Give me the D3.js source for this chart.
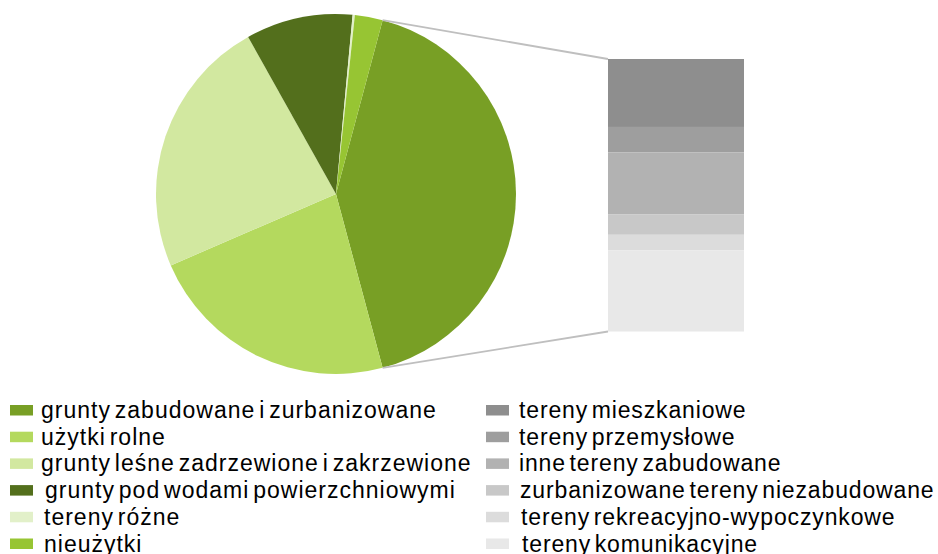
<!DOCTYPE html>
<html>
<head>
<meta charset="utf-8">
<script src="https://cdn.jsdelivr.net/npm/d3@7"></script>
<style>
  body { margin: 0; background: #fff; }
  text { font-family: "Liberation Sans", Arial, sans-serif; }
</style>
</head>
<body>
<div id="chart"></div>
<script>
// main pie categories (share of area, %)
var mainLabels = ["grunty zabudowane i zurbanizowane", "użytki rolne",
  "grunty leśne zadrzewione i zakrzewione", "grunty pod wodami powierzchniowymi",
  "tereny różne", "nieużytki"];
var mainValues = [41.7, 22.7, 23.4, 9.6, 0.2, 2.5];
var mainColors = ["#789f25", "#b4d95e", "#d2e8a0", "#536f1c", "#e2f0c9", "#97c533"];

// breakdown of the first slice, drawn as a stacked bar
var subLabels = ["tereny mieszkaniowe", "tereny przemysłowe", "inne tereny zabudowane",
  "zurbanizowane tereny niezabudowane", "tereny rekreacyjno-wypoczynkowe", "tereny komunikacyjne"];
var subValues = [10.4, 3.9, 9.5, 3.1, 2.4, 12.4];
var subColors = ["#8e8e8e", "#9e9e9e", "#b2b2b2", "#c8c8c8", "#dcdcdc", "#e8e8e8"];

var svgWidth = 938;
var svgHeight = 554;

var svg = d3.select("#chart")
  .append("svg")
  .attr("width", svgWidth)
  .attr("height", svgHeight);

var cx = 336, cy = 194, radius = 180;

// the exploded slice is centred on the right side (90deg)
var firstSpan = 2 * Math.PI * mainValues[0] / d3.sum(mainValues);
var start = Math.PI / 2 - firstSpan / 2;

var pie = d3.pie()
  .sort(null)
  .value(d => d)
  .startAngle(start)
  .endAngle(start + 2 * Math.PI);

var arcs = pie(mainValues);
var arc = d3.arc().innerRadius(0).outerRadius(radius);

var pieGroup = svg.append("g")
  .attr("transform", `translate(${cx}, ${cy})`);

pieGroup.selectAll("path")
  .data(arcs)
  .enter()
  .append("path")
  .attr("d", arc)
  .attr("fill", (d, i) => mainColors[i]);

// stacked bar
var barX0 = 608, barX1 = 744;
var yScale = d3.scaleLinear()
  .domain([0, d3.sum(subValues)])
  .range([59, 331.5]);

var cum = d3.cumsum(subValues);
svg.selectAll("rect.seg")
  .data(subValues)
  .enter()
  .append("rect")
  .attr("class", "seg")
  .attr("x", barX0)
  .attr("width", barX1 - barX0)
  .attr("y", (d, i) => yScale(cum[i] - d))
  .attr("height", d => yScale(d) - yScale(0))
  .attr("fill", (d, i) => subColors[i]);

// connector lines from the slice edges to the bar corners
var a0 = arcs[0].startAngle, a1 = arcs[0].endAngle;
var p0 = [cx + radius * Math.sin(a0), cy - radius * Math.cos(a0)];
var p1 = [cx + radius * Math.sin(a1), cy - radius * Math.cos(a1)];

svg.append("line")
  .attr("x1", p0[0]).attr("y1", p0[1])
  .attr("x2", barX0).attr("y2", yScale(0))
  .attr("stroke", "#bfbfbf").attr("stroke-width", 1.8);

svg.append("line")
  .attr("x1", p1[0]).attr("y1", p1[1])
  .attr("x2", barX0).attr("y2", yScale(d3.sum(subValues)))
  .attr("stroke", "#bfbfbf").attr("stroke-width", 1.8);

// legend
var rowY = d3.range(6).map(i => 418 + i * 26.7);

function legendColumn(labels, colors, swatchX, textX, shifts, spacing) {
  var g = svg.append("g");
  var rows = g.selectAll("g")
    .data(labels)
    .enter()
    .append("g");

  rows.append("rect")
    .attr("x", swatchX)
    .attr("y", (d, i) => rowY[i] - 13)
    .attr("width", 23)
    .attr("height", 10.5)
    .attr("fill", (d, i) => colors[i]);

  rows.append("text")
    .attr("x", (d, i) => textX + shifts[i])
    .attr("y", (d, i) => rowY[i])
    .attr("font-size", "23px")
    .attr("letter-spacing", spacing)
    .attr("word-spacing", "-3.5px")
    .attr("fill", "#000")
    .text(d => d);
}

legendColumn(mainLabels, mainColors, 10, 41, [0, 0, 0, 4, 3, 3], "1px");
legendColumn(subLabels, subColors, 486, 519, [0, 0, 0, 1, 2, 3], "0.85px");
</script>
</body>
</html>
